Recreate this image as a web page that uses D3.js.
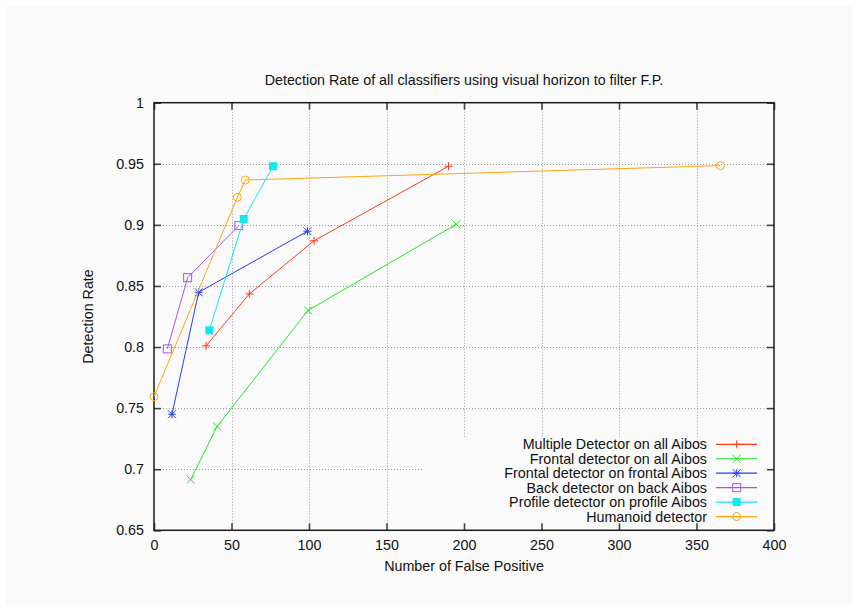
<!DOCTYPE html>
<html>
<head>
<meta charset="utf-8">
<script src="https://cdn.jsdelivr.net/npm/d3@7"></script>
<style>
  html, body { margin: 0; padding: 0; background: #ffffff; }
  svg { display: block; }
  text { font-family: "Liberation Sans", Arial, sans-serif; fill: #111; }
</style>
</head>
<body>
<svg id="chart" width="858" height="610"></svg>
<script>
// Detection rate vs. number of false positives for each classifier
const seriesNames = [
  "Multiple Detector on all Aibos",
  "Frontal detector on all Aibos",
  "Frontal detector on frontal Aibos",
  "Back detector on back Aibos",
  "Profile detector on profile Aibos",
  "Humanoid detector"
];
const multipleFP   = [33.6, 61.5, 103.3, 190];
const multipleDR   = [0.801, 0.8435, 0.887, 0.948];
const frontalAllFP = [23.7, 40.7, 99.4, 195];
const frontalAllDR = [0.6915, 0.735, 0.830, 0.9005];
const frontalFP    = [11.6, 28.8, 99];
const frontalDR    = [0.745, 0.8448, 0.8948];
const backFP       = [8.6, 21.7, 54.7];
const backDR       = [0.7985, 0.8568, 0.8994];
const profileFP    = [35.7, 57.9, 76.8];
const profileDR    = [0.8137, 0.9048, 0.948];
const humanoidFP   = [0, 53.8, 58.9, 365.4];
const humanoidDR   = [0.7594, 0.9226, 0.9367, 0.9485];
const xTicks = [0, 50, 100, 150, 200, 250, 300, 350, 400];
const yTicks = [0.65, 0.7, 0.75, 0.8, 0.85, 0.9, 0.95, 1];

const series = [
  { name: seriesNames[0], fp: multipleFP,   dr: multipleDR,   color: "#ff3a1c", marker: "plus" },
  { name: seriesNames[1], fp: frontalAllFP, dr: frontalAllDR, color: "#22e622", marker: "cross" },
  { name: seriesNames[2], fp: frontalFP,    dr: frontalDR,    color: "#2a3cf0", marker: "star" },
  { name: seriesNames[3], fp: backFP,       dr: backDR,       color: "#a855f0", marker: "square" },
  { name: seriesNames[4], fp: profileFP,    dr: profileDR,    color: "#10e8ee", marker: "fsquare" },
  { name: seriesNames[5], fp: humanoidFP,   dr: humanoidDR,   color: "#ffa510", marker: "circle" }
];

const svg = d3.select("#chart");
const W = 858, H = 610;
const m = { left: 154, right: 774, top: 102.7, bottom: 530.3 };
const fontSize = 14.3;

svg.append("rect").attr("x", 6).attr("y", 6).attr("width", W - 12).attr("height", H - 12)
  .attr("fill", "#fafafa");

const x = d3.scaleLinear().domain([0, 400]).range([m.left, m.right]);
const y = d3.scaleLinear().domain([0.65, 1]).range([m.bottom, m.top]);

// key box area (grid lines are not drawn under the key)
const keyBox = { x0: 423, y0: 437.5 };

// grid
const grid = svg.append("g").attr("stroke", "#9a9a9a").attr("stroke-width", 1)
  .attr("stroke-dasharray", "1,2").attr("fill", "none");
xTicks.slice(1, -1).forEach(t => {
  const px = Math.round(x(t)) + 0.5;
  const yEnd = px > keyBox.x0 ? keyBox.y0 : m.bottom;
  grid.append("line").attr("x1", px).attr("x2", px).attr("y1", m.top).attr("y2", yEnd);
});
yTicks.slice(1, -1).forEach(t => {
  const py = Math.round(y(t)) + 0.5;
  const xEnd = py > keyBox.y0 ? keyBox.x0 : m.right;
  grid.append("line").attr("x1", m.left).attr("x2", xEnd).attr("y1", py).attr("y2", py);
});

// axes with inward ticks on all four sides
const tickLen = 7;
const axisBottom = d3.axisBottom(x).tickValues(xTicks).tickSize(-tickLen).tickPadding(10).tickFormat(d3.format("d"));
const axisLeft = d3.axisLeft(y).tickValues(yTicks).tickSize(-tickLen).tickPadding(10).tickFormat(d => d === 1 ? "1" : d3.format(".2~f")(d));
const axisTop = d3.axisTop(x).tickValues(xTicks).tickSize(-tickLen).tickFormat("");
const axisRight = d3.axisRight(y).tickValues(yTicks).tickSize(-tickLen).tickFormat("");

function styleAxis(g) {
  g.select(".domain").remove();
  g.selectAll(".tick line").attr("stroke", "#444").attr("stroke-width", 1.6);
  g.selectAll(".tick text").attr("font-size", fontSize).attr("fill", "#111")
    .attr("font-family", "'Liberation Sans', Arial, sans-serif");
}
svg.append("g").attr("transform", `translate(0,${m.bottom})`).call(axisBottom).call(styleAxis);
svg.append("g").attr("transform", `translate(${m.left},0)`).call(axisLeft).call(styleAxis);
svg.append("g").attr("transform", `translate(0,${m.top})`).call(axisTop).call(styleAxis);
svg.append("g").attr("transform", `translate(${m.right},0)`).call(axisRight).call(styleAxis);

svg.append("rect").attr("x", m.left).attr("y", m.top)
  .attr("width", m.right - m.left).attr("height", m.bottom - m.top)
  .attr("fill", "none").attr("stroke", "#1a1a1a").attr("stroke-width", 1.5);

// marker drawing
function drawMarker(g, kind, cx, cy, color) {
  const s = 4;
  if (kind === "plus" || kind === "star") {
    g.append("path").attr("d", `M${cx - s},${cy}H${cx + s}M${cx},${cy - s}V${cy + s}`)
      .attr("stroke", color).attr("stroke-width", 1).attr("fill", "none");
  }
  if (kind === "cross" || kind === "star") {
    g.append("path").attr("d", `M${cx - s},${cy - s}L${cx + s},${cy + s}M${cx - s},${cy + s}L${cx + s},${cy - s}`)
      .attr("stroke", color).attr("stroke-width", 1).attr("fill", "none");
  }
  if (kind === "square") {
    g.append("rect").attr("x", cx - s).attr("y", cy - s).attr("width", 2 * s).attr("height", 2 * s)
      .attr("stroke", color).attr("stroke-width", 1).attr("fill", "none");
  }
  if (kind === "fsquare") {
    g.append("rect").attr("x", cx - s).attr("y", cy - s).attr("width", 2 * s).attr("height", 2 * s)
      .attr("fill", color);
  }
  if (kind === "circle") {
    g.append("circle").attr("cx", cx).attr("cy", cy).attr("r", s)
      .attr("stroke", color).attr("stroke-width", 1).attr("fill", "none");
  }
}

const line = d3.line().x(d => x(d[0])).y(d => y(d[1]));
const plot = svg.append("g");
series.forEach(s => {
  const pts = s.fp.map((v, i) => [v, s.dr[i]]);
  const g = plot.append("g");
  g.append("path").attr("d", line(pts)).attr("fill", "none")
    .attr("stroke", s.color).attr("stroke-width", 1);
  pts.forEach(p => drawMarker(g, s.marker, x(p[0]), y(p[1]), s.color));
});

// key
const key = svg.append("g");
series.forEach((s, i) => {
  const ky = 444.3 + i * 14.45;
  key.append("text").attr("x", 707).attr("y", ky).attr("dy", "0.35em")
    .attr("text-anchor", "end").attr("font-size", fontSize).text(s.name);
  key.append("line").attr("x1", 716).attr("x2", 757).attr("y1", ky).attr("y2", ky)
    .attr("stroke", s.color).attr("stroke-width", 1.2);
  drawMarker(key, s.marker, 736.7, ky, s.color);
});

// title and axis labels
svg.append("text").attr("x", (m.left + m.right) / 2).attr("y", 85)
  .attr("text-anchor", "middle").attr("font-size", fontSize)
  .text("Detection Rate of all classifiers using visual horizon to filter F.P.");
svg.append("text").attr("x", (m.left + m.right) / 2).attr("y", 571)
  .attr("text-anchor", "middle").attr("font-size", fontSize)
  .text("Number of False Positive");
svg.append("text").attr("transform", `translate(93,${(m.top + m.bottom) / 2}) rotate(-90)`)
  .attr("text-anchor", "middle").attr("font-size", fontSize)
  .text("Detection Rate");
</script>
</body>
</html>
